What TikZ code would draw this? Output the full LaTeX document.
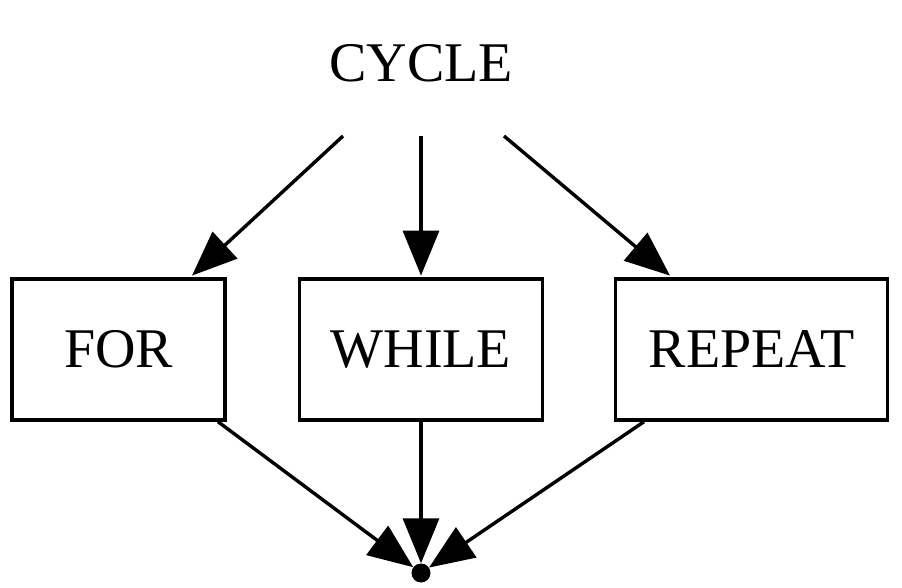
\documentclass[tikz,border=0pt]{standalone}
\usepackage{fontspec}
\setmainfont{Liberation Serif}
\usetikzlibrary{arrows.meta}
\begin{document}
\begin{tikzpicture}[x=1pt,y=1pt,
  lbl/.style={font=\fontsize{56}{60}\selectfont, inner sep=0pt},
  box/.style={draw, line width=3.4pt, minimum height=141pt, font=\fontsize{56}{60}\selectfont, inner sep=0pt},
  edge/.style={line width=3.4pt, -{Triangle[length=45pt,width=36pt]}},
  dotnode/.style={circle, fill=black, inner sep=0pt, minimum size=19pt}]
\useasboundingbox (0,0) rectangle (902,587);
\node[lbl, anchor=base] (cycle) at (421,505) {CYCLE};
\node[box, minimum width=213pt] (for) at (118.5,237.5) {FOR};
\node[box, minimum width=243pt] (while) at (421,237.5) {WHILE};
\node[box, minimum width=272pt] (repeat) at (751.5,237.5) {REPEAT};
\node[dotnode] (end) at (421,14) {};
\draw[edge] ([xshift=-78pt,yshift=-54pt]cycle.base) -- ([xshift=73.5pt,yshift=1.7pt]for.north);
\draw[edge] ([yshift=-54pt]cycle.base) -- ([yshift=1.7pt]while.north);
\draw[edge] ([xshift=83pt,yshift=-54pt]cycle.base) -- ([xshift=-81.5pt,yshift=1.7pt]repeat.north);
\draw[edge] ([xshift=99.5pt]for.south) -- (end);
\draw[edge] (while.south) -- (end);
\draw[edge] ([xshift=-107.5pt]repeat.south) -- (end);
\end{tikzpicture}
\end{document}
